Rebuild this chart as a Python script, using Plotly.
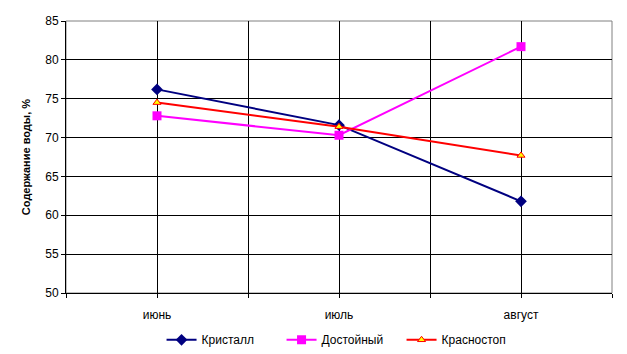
import plotly.graph_objects as go

categories = ["июнь", "июль", "август"]
kristall = [76.2, 71.6, 61.8]
dostoyny = [72.8, 70.3, 81.7]
krasnostop = [74.5, 71.4, 67.7]

x = list(range(len(categories)))

fig = go.Figure()
fig.add_trace(go.Scatter(x=x, y=kristall, name="Кристалл", mode="lines+markers",
                         line=dict(color="#000080", width=2),
                         marker=dict(symbol="diamond", size=9, color="#000080")))
fig.add_trace(go.Scatter(x=x, y=dostoyny, name="Достойный", mode="lines+markers",
                         line=dict(color="#FF00FF", width=2),
                         marker=dict(symbol="square", size=9, color="#FF00FF")))
fig.add_trace(go.Scatter(x=x, y=krasnostop, name="Красностоп", mode="lines+markers",
                         line=dict(color="#FF0000", width=2),
                         marker=dict(symbol="triangle-up", size=7, color="#FFFF00",
                                     line=dict(color="#FF0000", width=1))))

fig.update_layout(
    width=627, height=354,
    margin=dict(l=66, r=15, t=21, b=61, autoexpand=False),
    paper_bgcolor="white", plot_bgcolor="white",
    font=dict(family="Arial, Liberation Sans, sans-serif", size=12, color="black"),
    showlegend=True,
    legend=dict(orientation="h", x=0.175, xanchor="left", y=-0.172, yanchor="middle",
                font=dict(size=12), itemwidth=30, traceorder="normal",
                entrywidth=75, entrywidthmode="pixels"),
    shapes=[dict(type="rect", xref="paper", yref="paper", x0=0, x1=1, y0=0, y1=1,
                 line=dict(color="#808080", width=1), layer="below")],
)
fig.update_xaxes(
    range=[-0.5, 2.5], tickvals=x, ticktext=categories,
    showgrid=True, gridcolor="black", gridwidth=1,
    ticks="outside", ticklen=4, tickcolor="black",
    minor=dict(tickvals=[-0.5, 0.5, 1.5, 2.5], showgrid=True, gridcolor="black",
               gridwidth=1, ticks="outside", ticklen=4, tickcolor="black"),
    showline=True, linecolor="black", linewidth=1, zeroline=False,
    fixedrange=True, ticklabelstandoff=7, tickfont=dict(size=12),
)
fig.update_yaxes(
    range=[50, 85], dtick=5, showgrid=True, gridcolor="black", gridwidth=1,
    ticks="outside", ticklen=4, tickcolor="black",
    showline=True, linecolor="black", linewidth=1, zeroline=False,
    title=dict(text="<b>Содержание воды, %</b>", font=dict(size=11), standoff=12),
    fixedrange=True, tickfont=dict(size=12),
)
fig.write_html("out.html")
